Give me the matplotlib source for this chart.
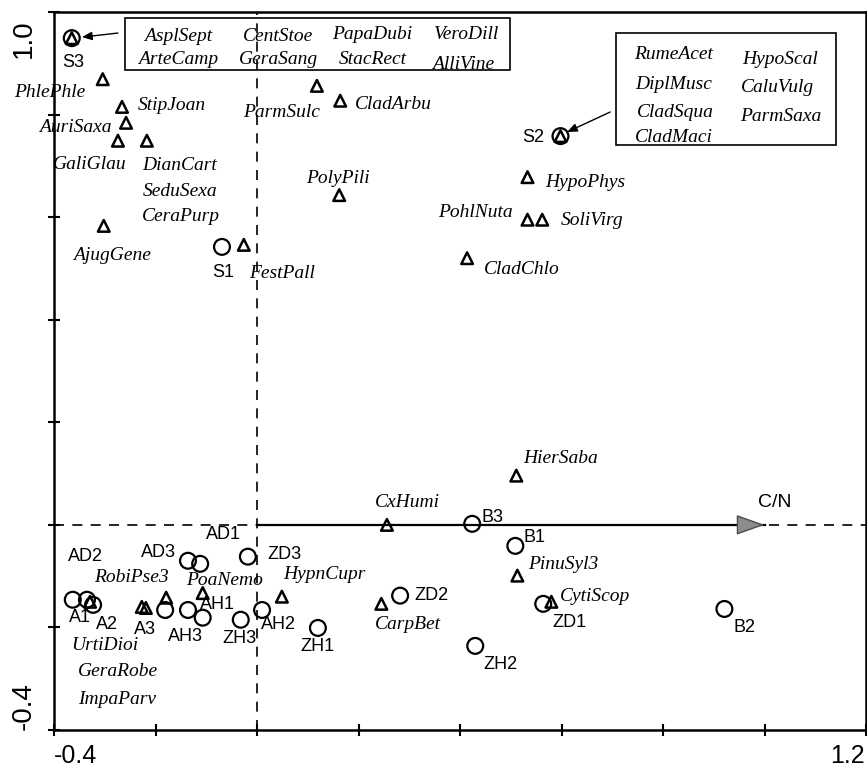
"""
Ordination biplot (sites as circles, species as triangles, C/N as an arrow).
"""
import matplotlib
matplotlib.use('Agg')
import matplotlib.pyplot as plt
from matplotlib.patches import Rectangle

# --- sites (circles) ---
site_names = ['S3', 'S2', 'S1', 'A1', 'AD2', 'A2', 'A3', 'AH3', 'AH1', 'AD3', 'AD1',
              'ZD3', 'ZH3', 'AH2', 'ZH1', 'B3', 'B1', 'ZD2', 'ZD1', 'B2', 'ZH2']
site_x = [-0.365, 0.598, -0.069, -0.363, -0.335, -0.323, -0.181, -0.136, -0.107, -0.136, -0.112,
          -0.018, -0.032, 0.010, 0.120, 0.424, 0.509, 0.282, 0.564, 0.921, 0.430]
site_y = [0.949, 0.758, 0.542, -0.146, -0.146, -0.156, -0.166, -0.166, -0.181, -0.070, -0.076,
          -0.062, -0.185, -0.166, -0.201, 0.002, -0.041, -0.138, -0.154, -0.164, -0.236]

# --- species (triangles); None = unlabelled ---
species_names = ['S3grp', 'S2grp', 'PhlePhle', 'StipJoan', 'AuriSaxa', 'GaliGlau', 'DianCart',
                 'AjugGene', 'FestPall', 'ParmSulc', 'CladArbu', 'PolyPili', 'HypoPhys',
                 'PohlNuta', 'SoliVirg', 'CladChlo', 'HierSaba', 'CxHumi', 'PinuSyl3',
                 'CarpBet', 'CytiScop', 'HypnCupr', 'UrtiDioi', 'RobiPse3', None, None, 'PoaNemo']
species_x = [-0.365, 0.598, -0.304, -0.266, -0.258, -0.274, -0.217,
             -0.302, -0.026, 0.118, 0.164, 0.162, 0.533,
             0.533, 0.562, 0.414, 0.511, 0.256, 0.513,
             0.245, 0.580, 0.049, -0.329, -0.227, -0.219, -0.179, -0.107]
species_y = [0.949, 0.758, 0.869, 0.815, 0.784, 0.749, 0.749,
             0.583, 0.546, 0.856, 0.827, 0.643, 0.678,
             0.595, 0.595, 0.520, 0.096, 0.000, -0.099,
             -0.154, -0.150, -0.140, -0.150, -0.160, -0.162, -0.142, -0.133]

# species sharing a point with another one (stacked labels)
stacked = {'DianCart': ['SeduSexa', 'CeraPurp'], 'UrtiDioi': ['GeraRobe', 'ImpaParv']}

# species listed in the two boxes (they sit on S3 and S2)
box1_species = ['AsplSept', 'CentStoe', 'PapaDubi', 'VeroDill',
                'ArteCamp', 'GeraSang', 'StacRect', 'AlliVine']
box2_species = ['RumeAcet', 'HypoScal', 'DiplMusc', 'CaluVulg',
                'CladSqua', 'ParmSaxa', 'CladMaci']

# environmental arrow
env_name = 'C/N'
env_x, env_y = 1.0, 0.0

# label offsets in pixels (dx, dy) from the marker
site_off = {'S3': (1, -24), 'S2': (-27, -1), 'S1': (1, -26), 'A1': (7, -18), 'AD2': (-2, 43),
            'A2': (14, -20), 'A3': (-20, -20), 'AH3': (-3, -27), 'AH1': (15, 13),
            'AD3': (-30, 8), 'AD1': (23, 29), 'ZD3': (37, 2), 'ZH3': (-1, -19),
            'AH2': (16, -15), 'ZH1': (0, -19), 'B3': (20, 6), 'B1': (19, 8),
            'ZD2': (31, 0), 'ZD1': (26, -19), 'B2': (20, -19), 'ZH2': (25, -19)}
sp_off = {'PhlePhle': (-53, -13), 'StipJoan': (50, 1), 'AuriSaxa': (-51, -5),
          'GaliGlau': (-28, -24), 'DianCart': (33, -25), 'SeduSexa': (33, -51),
          'CeraPurp': (34, -76), 'AjugGene': (8, -30), 'FestPall': (38, -29),
          'ParmSulc': (-35, -27), 'CladArbu': (53, -4), 'PolyPili': (-1, 17),
          'HypoPhys': (58, -5), 'PohlNuta': (-52, 7), 'SoliVirg': (50, -1),
          'CladChlo': (55, -11), 'HierSaba': (44, 17), 'CxHumi': (20, 22),
          'PinuSyl3': (46, 11), 'CarpBet': (27, -21), 'CytiScop': (44, 5),
          'HypnCupr': (43, 22), 'UrtiDioi': (15, -44), 'GeraRobe': (28, -70),
          'ImpaParv': (27, -98), 'RobiPse3': (-10, 29), 'PoaNemo': (22, 13)}
box1_off = [(106, 2), (206, 2), (300, 4), (395, 4),
            (106, -21), (207, -21), (301, -21), (391, -26)]
box2_off = [(113, 82), (220, 77), (113, 52), (217, 49),
            (115, 24), (220, 20), (113, -1)]

SANS = ['Liberation Sans', 'DejaVu Sans']
SERIF = ['Liberation Serif', 'DejaVu Serif']

fig = plt.figure(figsize=(8.67, 7.71), dpi=100)
ax = fig.add_axes([54 / 867, 41 / 771, 812 / 867, 718 / 771])
ax.set_xlim(-0.4, 1.2)
ax.set_ylim(-0.4, 1.0)

# axes lines through origin
ax.axvline(0, color='black', lw=1.2, ls=(0, (6, 5)), zorder=1)
ax.axhline(0, color='black', lw=1.2, ls=(0, (6, 5)), zorder=1)

# C/N arrow
ax.plot([0, env_x], [0, env_y], color='black', lw=1.6, zorder=2)
ax.annotate('', xy=(env_x, env_y), xytext=(env_x - 0.04, env_y),
            arrowprops=dict(arrowstyle='-|>,head_length=0.9,head_width=0.32',
                            mutation_scale=20, fc='0.55', ec='0.3', lw=1.0,
                            shrinkA=0, shrinkB=0), zorder=3)
ax.annotate(env_name, xy=(env_x, env_y), xytext=(10, 22), textcoords='offset pixels',
            ha='center', va='center', fontsize=14, family=SANS)

# markers
ax.scatter(site_x, site_y, s=130, facecolors='none', edgecolors='black', linewidths=1.6, zorder=4)
ax.scatter(species_x, species_y, marker='^', s=70, facecolors='none', edgecolors='black',
           linewidths=1.8, zorder=5)

# site labels
for name, x, y in zip(site_names, site_x, site_y):
    dx, dy = site_off[name]
    ax.annotate(name, xy=(x, y), xytext=(dx, dy), textcoords='offset pixels',
                ha='center', va='center', fontsize=13, family=SANS)

# species labels
for name, x, y in zip(species_names, species_x, species_y):
    if name is None or name not in sp_off:
        continue
    for nm in [name] + stacked.get(name, []):
        dx, dy = sp_off[nm]
        ax.annotate(nm, xy=(x, y), xytext=(dx, dy), textcoords='offset pixels',
                    ha='center', va='center', fontsize=14, style='italic', family=SERIF)

# boxed species groups
for names, offs, idx in [(box1_species, box1_off, 0), (box2_species, box2_off, 1)]:
    for nm, (dx, dy) in zip(names, offs):
        ax.annotate(nm, xy=(species_x[idx], species_y[idx]), xytext=(dx, dy),
                    textcoords='offset pixels', ha='center', va='center',
                    fontsize=14, style='italic', family=SERIF)

ax.add_patch(Rectangle((-0.260, 0.887), 0.759, 0.101, fill=False, ec='black', lw=1.2, zorder=3))
ax.add_patch(Rectangle((0.708, 0.741), 0.432, 0.218, fill=False, ec='black', lw=1.2, zorder=3))
ax.annotate('', xy=(-0.345, 0.951), xytext=(-0.274, 0.959),
            arrowprops=dict(arrowstyle='-|>,head_length=0.6,head_width=0.25',
                            mutation_scale=10, color='black', lw=1.0, shrinkA=0, shrinkB=0))
ax.annotate('', xy=(0.611, 0.766), xytext=(0.696, 0.805),
            arrowprops=dict(arrowstyle='-|>,head_length=0.6,head_width=0.25',
                            mutation_scale=10, color='black', lw=1.0, shrinkA=0, shrinkB=0))

# ticks and end labels
ax.set_xticks([-0.4 + 0.2 * i for i in range(9)])
ax.set_yticks([-0.4 + 0.2 * i for i in range(8)])
ax.set_xticklabels([])
ax.set_yticklabels([])
ax.tick_params(direction='inout', length=8, width=1.5, top=False, right=False)
for sp in ax.spines.values():
    sp.set_linewidth(1.8)

ax.text(0.0, -0.046, '-0.4', transform=ax.transAxes, ha='left', va='baseline',
        fontsize=18, family=SANS)
ax.text(0.999, -0.046, '1.2', transform=ax.transAxes, ha='right', va='baseline',
        fontsize=18, family=SANS)
ax.text(-0.037, 0.0, '-0.4', transform=ax.transAxes, ha='center', va='bottom', rotation=90,
        fontsize=20, family=SANS)
ax.text(-0.037, 0.99, '1.0', transform=ax.transAxes, ha='center', va='top', rotation=90,
        fontsize=20, family=SANS)

fig.savefig('out.png', dpi=100)
